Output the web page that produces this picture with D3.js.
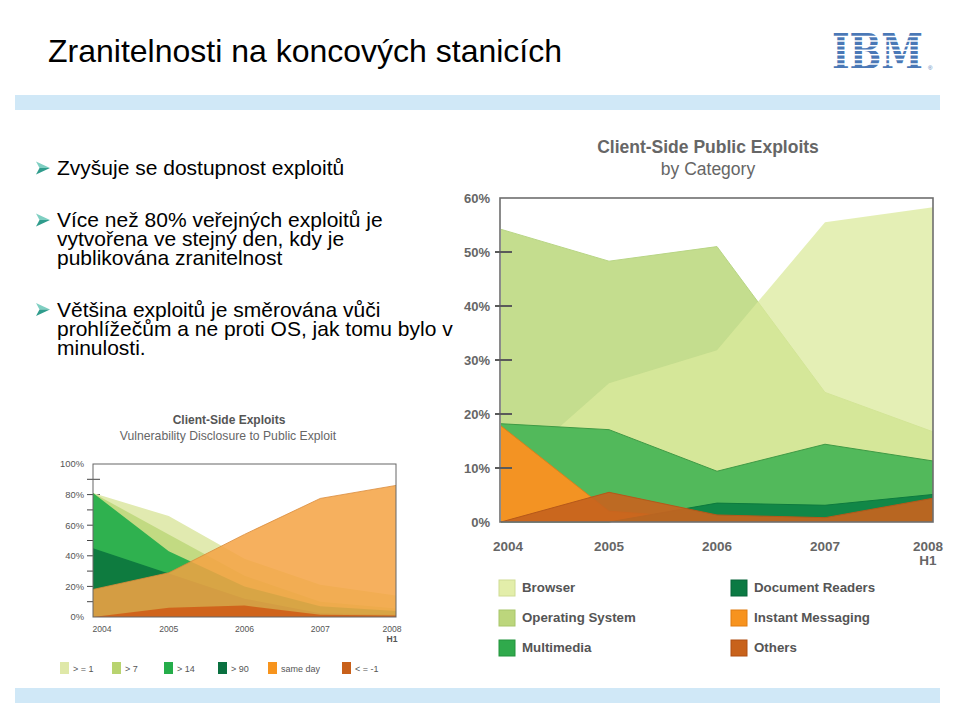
<!DOCTYPE html>
<html><head><meta charset="utf-8">
<script src="https://cdn.jsdelivr.net/npm/d3@7/dist/d3.min.js"></script>
<style>body{margin:0;background:#fff}svg{display:block}</style>
</head><body>
<svg id="s" width="960" height="719"></svg>
<script>
// ---------- text content ----------
const slideTitle = "Zranitelnosti na koncových stanicích";
const bulletLines = [
  ["Zvyšuje se dostupnost exploitů"],
  ["Více než 80% veřejných exploitů je", "vytvořena ve stejný den, kdy je", "publikována zranitelnost"],
  ["Většina exploitů je směrována vůči", "prohlížečům a ne proti OS, jak tomu bylo v", "minulosti."]
];

// ---------- shared categories ----------
const years = ["2004", "2005", "2006", "2007", "2008"];
const yearSub = ["", "", "", "", "H1"];

// ---------- big chart: Client-Side Public Exploits by Category (%) ----------
const bigTitle = "Client-Side Public Exploits";
const bigSubtitle = "by Category";
const bigTicks = [0, 10, 20, 30, 40, 50, 60];
const catNames = ["Browser", "Operating System", "Multimedia", "Document Readers", "Instant Messaging", "Others"];
const browser           = [8.0, 25.7, 31.8, 55.5, 58.3];
const operatingSystem   = [54.2, 48.3, 51.0, 24.0, 16.7];
const multimedia        = [18.2, 17.1, 9.4, 14.4, 11.3];
const documentReaders   = [0.0, 0.0, 3.5, 3.1, 5.1];
const instantMessaging  = [17.8, 2.0, 0.5, 0.3, 0.3];
const others            = [0.0, 5.5, 1.3, 0.8, 4.4];

// ---------- small chart: Vulnerability Disclosure to Public Exploit (%) ----------
const smallTitle = "Client-Side Exploits";
const smallSubtitle = "Vulnerability Disclosure to Public Exploit";
const smallTicks = [0, 20, 40, 60, 80, 100];
const smallNames = ["> = 1", "> 7", "> 14", "> 90", "same day", "< = -1"];
const ge1     = [81, 66, 38, 21, 14];
const gt7     = [81, 54, 27, 10, 5.5];
const gt14    = [81, 43, 20, 7, 4];
const gt90    = [45, 28.5, 12, 2.5, 1.5];
const sameDay = [18, 28.9, 54, 77.5, 86];
const leM1    = [0, 6, 7.5, 1.5, 1];

// ================= drawing =================
const svg = d3.select("#s");
svg.append("rect").attr("width", 960).attr("height", 719).attr("fill", "#fff");
const FONT = "Liberation Sans, Arial, Helvetica, sans-serif";

// slide title
svg.append("text").attr("x", 48).attr("y", 62).attr("font-family", FONT)
  .attr("font-size", 32).attr("fill", "#000").text(slideTitle);

// IBM logo (striped)
const defs = svg.append("defs");
const cp = defs.append("clipPath").attr("id", "stripes");
d3.range(8).forEach(i => cp.append("rect").attr("x", 820).attr("y", 32.6 + i * 4.6).attr("width", 106).attr("height", 3.1));
const logo = svg.append("g").attr("clip-path", "url(#stripes)");
logo.append("text").attr("transform", "translate(832,69) scale(1,1.2)").attr("font-family", "DejaVu Serif, serif")
  .attr("font-weight", "bold").attr("font-size", 41).attr("textLength", 91).attr("lengthAdjust", "spacingAndGlyphs")
  .attr("fill", "#4a78b6").text("IBM");
svg.append("text").attr("x", 928).attr("y", 70).attr("font-family", FONT).attr("font-size", 6)
  .attr("fill", "#4a78b6").text("®");

// blue bands
svg.append("rect").attr("x", 15).attr("y", 95).attr("width", 925).attr("height", 15).attr("fill", "#d0e8f7");
svg.append("rect").attr("x", 15).attr("y", 688).attr("width", 925).attr("height", 15).attr("fill", "#d0e8f7");

// bullets
const bulletTop = [175, 227, 316.5];
const lineGap = 19;
bulletLines.forEach((lines, bi) => {
  const by = bulletTop[bi];
  const g = svg.append("g").attr("transform", `translate(36,${by - 13.5})`);
  g.append("path").attr("d", "M0,0 L14,6.5 L3.5,6.5 Z").attr("fill", "#7fcfc2");
  g.append("path").attr("d", "M3.5,6.5 L14,6.5 L0,13 Z").attr("fill", "#2f9c8c");
  lines.forEach((t, li) => {
    svg.append("text").attr("x", 57).attr("y", by + li * lineGap).attr("font-family", FONT)
      .attr("font-size", 21).attr("fill", "#000").text(t);
  });
});

// chart image background (clips overflowing text)
svg.append("rect").attr("x", 456).attr("y", 118).attr("width", 489).attr("height", 562).attr("fill", "#fff");

// ---------- big chart ----------
const xB = d3.scalePoint().domain(years).range([501, 933]);
const yB = d3.scaleLinear().domain([0, 60]).range([522, 198]);
const areaB = d3.area().x((d, i) => xB(years[i])).y0(yB(0)).y1(d => yB(d));
const lineB = d3.line().x((d, i) => xB(years[i])).y(d => yB(d));
const bigColors = {
  browser: "#dbea9c", os: "#c4dd8e", mm: "#52b95b", doc: "#118747", im: "#f39323", oth: "#c7631e"
};
const bigLayers = [
  {v: operatingSystem, fill: bigColors.os, op: 1, stroke: "#b8d585"},
  {v: browser, fill: bigColors.browser, op: 0.75, stroke: "none"},
  {v: multimedia, fill: bigColors.mm, op: 1, stroke: "#3f9a45"},
  {v: instantMessaging, fill: bigColors.im, op: 1, stroke: "#d9801c"},
  {v: documentReaders, fill: bigColors.doc, op: 1, stroke: "#0d7a3e"},
  {v: others, fill: bigColors.oth, op: 0.92, stroke: "#b5581a"}
];
bigLayers.forEach(L => {
  svg.append("path").attr("d", areaB(L.v)).attr("fill", L.fill).attr("fill-opacity", L.op);
  if (L.stroke !== "none")
    svg.append("path").attr("d", lineB(L.v)).attr("fill", "none").attr("stroke", L.stroke).attr("stroke-width", 1);
});
// frame
svg.append("rect").attr("x", 500).attr("y", 198).attr("width", 433).attr("height", 324)
  .attr("fill", "none").attr("stroke", "#6e6e6e").attr("stroke-width", 1.6);
// ticks
bigTicks.filter(t => t > 0 && t < 60).forEach(t => {
  svg.append("line").attr("x1", 495).attr("x2", 512).attr("y1", yB(t)).attr("y2", yB(t))
    .attr("stroke", "#5a5a5a").attr("stroke-width", 2);
});
bigTicks.forEach(t => {
  svg.append("text").attr("x", 490).attr("y", yB(t) + 4.7).attr("text-anchor", "end")
    .attr("font-family", FONT).attr("font-weight", "bold").attr("font-size", 13).attr("fill", "#666")
    .text(t + "%");
});
years.forEach((yr, i) => {
  const dx = i === 0 ? 7 : (i === years.length - 1 ? -5 : 0);
  svg.append("text").attr("x", xB(yr) + dx).attr("y", 551).attr("text-anchor", "middle")
    .attr("font-family", FONT).attr("font-weight", "bold").attr("font-size", 13.5).attr("fill", "#666").text(yr);
  if (yearSub[i]) svg.append("text").attr("x", xB(yr) + dx).attr("y", 565).attr("text-anchor", "middle")
    .attr("font-family", FONT).attr("font-weight", "bold").attr("font-size", 13.5).attr("fill", "#666").text(yearSub[i]);
});
svg.append("text").attr("x", 708).attr("y", 153).attr("text-anchor", "middle").attr("font-family", FONT)
  .attr("font-weight", "bold").attr("font-size", 17.5).attr("fill", "#666").text(bigTitle);
svg.append("text").attr("x", 708).attr("y", 175).attr("text-anchor", "middle").attr("font-family", FONT)
  .attr("font-size", 17.5).attr("fill", "#666").text(bigSubtitle);
// legend
const legColors = ["#e3eeaa", "#bcd67c", "#30aa4c", "#0b7a43", "#f7931e", "#c8621b"];
const legBorder = ["#cfdc94", "#a8c66a", "#23933d", "#08653a", "#e07d10", "#b04f12"];
catNames.forEach((n, i) => {
  const col = Math.floor(i / 3), row = i % 3;
  const bx = col === 0 ? 499 : 731, by = 580 + row * 30;
  svg.append("rect").attr("x", bx).attr("y", by).attr("width", 16).attr("height", 16)
    .attr("fill", legColors[i]).attr("stroke", legBorder[i]).attr("stroke-width", 1);
  svg.append("text").attr("x", bx + 23).attr("y", by + 12).attr("font-family", FONT).attr("font-weight", "bold")
    .attr("font-size", 13.3).attr("fill", "#555").text(n);
});

// ---------- small chart ----------
const xS = d3.scalePoint().domain(years).range([93, 396]);
const yS = d3.scaleLinear().domain([0, 100]).range([617, 464]);
const areaS = d3.area().x((d, i) => xS(years[i])).y0(yS(0)).y1(d => yS(d));
// minor ticks (drawn under areas)
d3.range(10, 100, 10).forEach(t => {
  svg.append("line").attr("x1", 87).attr("x2", 100).attr("y1", yS(t)).attr("y2", yS(t))
    .attr("stroke", "#444").attr("stroke-width", 1);
});
const smallLayers = [
  {v: ge1, fill: "#e1eab0", op: 1},
  {v: gt7, fill: "#c2da82", op: 1},
  {v: gt14, fill: "#2fb14f", op: 1},
  {v: gt90, fill: "#0e7b3f", op: 1},
  {v: sameDay, fill: "#f5a343", op: 0.86},
  {v: leM1, fill: "#d0611a", op: 0.95}
];
smallLayers.forEach(L => {
  svg.append("path").attr("d", areaS(L.v)).attr("fill", L.fill).attr("fill-opacity", L.op);
});
svg.append("path").attr("d", d3.line().x((d, i) => xS(years[i])).y(d => yS(d))(sameDay))
  .attr("fill", "none").attr("stroke", "#d98a3a").attr("stroke-width", 0.8);
svg.append("rect").attr("x", 93).attr("y", 464).attr("width", 303).attr("height", 153)
  .attr("fill", "none").attr("stroke", "#666").attr("stroke-width", 1);
smallTicks.forEach(t => {
  svg.append("text").attr("x", 84).attr("y", yS(t) + 3.4).attr("text-anchor", "end")
    .attr("font-family", FONT).attr("font-size", 9.4).attr("fill", "#555").text(t + "%");
});
years.forEach((yr, i) => {
  const dx = i === 0 ? 9 : (i === years.length - 1 ? -4 : 0);
  svg.append("text").attr("x", xS(yr) + dx).attr("y", 631.5).attr("text-anchor", "middle")
    .attr("font-family", FONT).attr("font-size", 8.6).attr("fill", "#555").text(yr);
  if (yearSub[i]) svg.append("text").attr("x", xS(yr) + dx).attr("y", 642).attr("text-anchor", "middle")
    .attr("font-family", FONT).attr("font-weight", "bold").attr("font-size", 8.6).attr("fill", "#555").text(yearSub[i]);
});
svg.append("text").attr("x", 229).attr("y", 424).attr("text-anchor", "middle").attr("font-family", FONT)
  .attr("font-weight", "bold").attr("font-size", 12).attr("fill", "#555").text(smallTitle);
svg.append("text").attr("x", 228).attr("y", 440).attr("text-anchor", "middle").attr("font-family", FONT)
  .attr("font-size", 12.2).attr("fill", "#666").text(smallSubtitle);
const sLegX = [60, 112, 164, 218, 268, 342];
const sLegColors = ["#dfe8a8", "#b8d36f", "#25ad4a", "#0a7040", "#f7941d", "#c8601a"];
smallNames.forEach((n, i) => {
  svg.append("rect").attr("x", sLegX[i]).attr("y", 662).attr("width", 9).attr("height", 12).attr("fill", sLegColors[i]);
  svg.append("text").attr("x", sLegX[i] + 13).attr("y", 672).attr("font-family", FONT)
    .attr("font-size", 9).attr("fill", "#555").text(n);
});
</script>
</body></html>
